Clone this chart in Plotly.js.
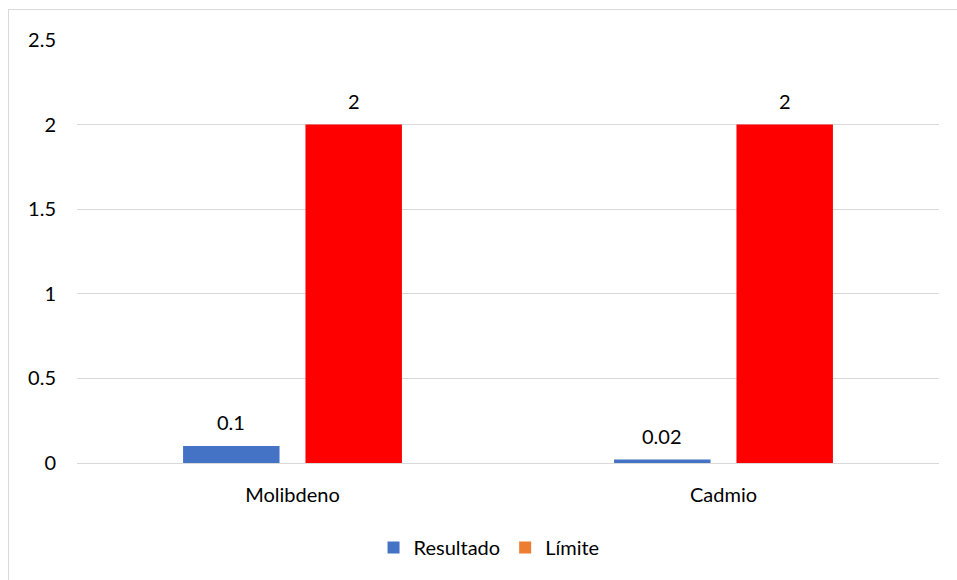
<!DOCTYPE html>
<html>
<head>
<meta charset="utf-8">
<script src="https://cdn.plot.ly/plotly-3.0.1.min.js"></script>
<style>
html,body{margin:0;padding:0;background:#fff;}
#wrap{position:relative;width:957px;height:580px;}
#chart{position:absolute;left:0;top:0;width:957px;height:580px;}
#frame{position:absolute;left:8px;top:9px;width:960px;height:590px;border:1px solid #d9d9d9;pointer-events:none;}
</style>
</head>
<body>
<div id="wrap"><div id="chart"></div><div id="frame"></div></div>
<script>
var categories = ["Molibdeno", "Cadmio"];
var resultado = [0.1, 0.02];
var limite = [2, 2];
var yTicks = [0, 0.5, 1, 1.5, 2, 2.5];
var yTickLabels = ["0", "0.5", "1", "1.5", "2", "2.5"];

var font = {family: "Lato, 'Open Sans', sans-serif", size: 20, color: "#000"};

var traces = [
  {type: "bar", name: "Resultado", x: categories, y: resultado, offsetgroup: "a",
   marker: {color: "#4472c4"}, hoverinfo: "x+y"},
  {type: "bar", name: "Límite", x: categories, y: limite, offsetgroup: "b",
   marker: {color: "#ff0000"}, showlegend: false, hoverinfo: "x+y"},
  {type: "bar", name: "Límite", x: categories, y: [null, null], offsetgroup: "b",
   marker: {color: "#ed7d31"}, showlegend: true, hoverinfo: "skip"}
];

var bargap = 0.432, bargroupgap = 0.212;
var slotCenter = (1 - bargap) / 4; // offset of each group slot center, in category units
var annotations = [];
categories.forEach(function (c, i) {
  annotations.push({x: i - slotCenter, y: resultado[i], xref: "x", yref: "y", text: String(resultado[i]),
    showarrow: false, yanchor: "bottom", yshift: 10, font: font});
  annotations.push({x: i + slotCenter, y: limite[i], xref: "x", yref: "y", text: String(limite[i]),
    showarrow: false, yanchor: "bottom", yshift: 10, font: font});
});

var layout = {
  width: 957, height: 580,
  margin: {l: 77, r: 18, t: 40, b: 117},
  paper_bgcolor: "rgba(0,0,0,0)", plot_bgcolor: "#fff",
  font: font,
  barmode: "group", bargap: bargap, bargroupgap: bargroupgap,
  showlegend: true,
  annotations: annotations,
  legend: {orientation: "h", x: 0.478, xanchor: "center", y: -0.2, yanchor: "middle",
           font: font, traceorder: "normal", itemwidth: 30},
  xaxis: {type: "category", showgrid: false, showline: true, linecolor: "#d9d9d9", linewidth: 1,
          ticks: "", tickfont: font, zeroline: false, ticklabelstandoff: 14},
  yaxis: {range: [0, 2.5], tickvals: yTicks, ticktext: yTickLabels, showgrid: true,
          gridcolor: "#d9d9d9", gridwidth: 1, zeroline: true, zerolinecolor: "#d9d9d9",
          showline: false, ticks: "", tickfont: font, ticklabelstandoff: 20}
};

Plotly.newPlot("chart", traces, layout, {displayModeBar: false, staticPlot: true});
</script>
</body>
</html>
